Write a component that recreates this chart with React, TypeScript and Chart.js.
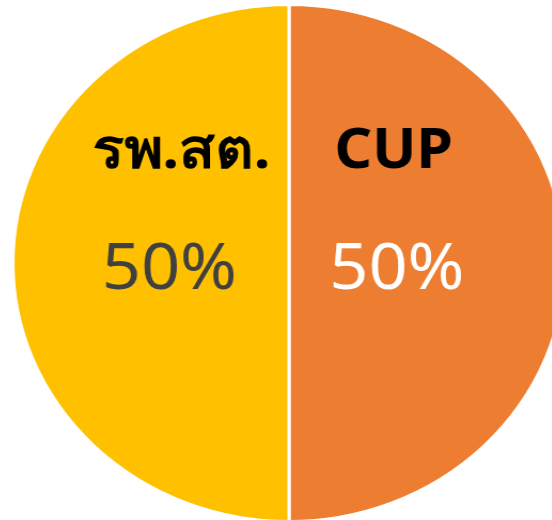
import React, { useEffect, useRef } from "react";
import { Chart, registerables } from "chart.js";

Chart.register(...registerables);

const categories = ["CUP", "รพ.สต."];
const values = [50, 50];
const percentLabels = ["50%", "50%"];
const sliceColors = ["#ED7D31", "#FFC000"];
const percentColors = ["#FFFFFF", "#404040"];

const labelPlugin = {
  id: "sliceLabels",
  afterDatasetsDraw(chart: any) {
    const ctx = chart.ctx;
    const meta = chart.getDatasetMeta(0);
    meta.data.forEach((arc: any, i: number) => {
      const { x, y, startAngle, endAngle } = arc.getProps(["x", "y", "startAngle", "endAngle"], true);
      const mid = (startAngle + endAngle) / 2;
      const right = Math.cos(mid) >= 0;
      const nameX = x + (right ? 98 : -101);
      const pctX = x + (right ? 101 : -112);
      ctx.save();
      ctx.textAlign = "center";
      ctx.textBaseline = "middle";
      ctx.fillStyle = "#000000";
      ctx.font = "bold 55px 'Noto Sans', 'DejaVu Sans', sans-serif";
      ctx.fillText(categories[i], nameX, y - 111);
      ctx.fillStyle = percentColors[i];
      ctx.font = "64px 'Noto Sans', 'DejaVu Sans', sans-serif";
      ctx.fillText(percentLabels[i], pctX, y + 8);
      ctx.restore();
    });
  },
};

export default function App() {
  const ref = useRef<HTMLCanvasElement>(null);
  useEffect(() => {
    document.body.style.margin = "0";
    const chart = new Chart(ref.current!, {
      type: "pie",
      data: {
        labels: categories,
        datasets: [
          {
            data: values,
            backgroundColor: sliceColors,
            borderColor: "#FFFFFF",
            borderWidth: 3,
            hoverOffset: 0,
          },
        ],
      },
      options: {
        animation: false,
        responsive: false,
        radius: 258.5,
        layout: { padding: 0 },
        plugins: {
          legend: { display: false },
          tooltip: { enabled: false },
        },
      },
      plugins: [labelPlugin],
    } as any);
    return () => chart.destroy();
  }, []);
  return (
    <div style={{ position: "fixed", left: 0, top: 0, width: 552, height: 520, overflow: "hidden", background: "#fff" }}>
      <canvas
        ref={ref}
        width={520}
        height={520}
        style={{
          position: "absolute",
          left: 28.5,
          top: 3,
          width: 520,
          height: 520,
          transform: "scaleX(1.068)",
          transformOrigin: "260px 260px",
        }}
      />
    </div>
  );
}
